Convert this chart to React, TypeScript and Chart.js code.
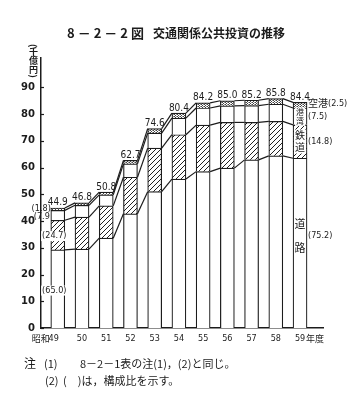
import React, { useEffect, useRef } from 'react';
import { Chart, registerables } from 'chart.js';

Chart.register(...registerables);

// ---- data ----
const years = ['49', '50', '51', '52', '53', '54', '55', '56', '57', '58', '59'];
const road = [29.2, 29.5, 33.6, 42.7, 51.0, 55.7, 58.5, 59.8, 62.9, 64.4, 63.5];
const rail = [11.1, 12.0, 12.1, 13.7, 16.3, 16.6, 17.4, 17.1, 14.0, 12.9, 12.5];
const port = [3.7, 4.4, 4.1, 5.0, 5.6, 6.2, 6.4, 6.2, 6.3, 6.4, 6.3];
const airport = [0.9, 0.9, 1.0, 1.3, 1.7, 1.9, 1.9, 1.9, 2.0, 2.1, 2.1];
const totals = [44.9, 46.8, 50.8, 62.7, 74.6, 80.4, 84.2, 85.0, 85.2, 85.8, 84.4];
const yTicks = [0, 10, 20, 30, 40, 50, 60, 70, 80, 90];
const firstShares = ['(1.8)', '(7.9', '(24.7)', '(65.0)'];
const lastShares = ['(2.5)', '(7.5)', '(14.8)', '(75.2)'];
const xPrefix = '昭和';
const xSuffix = '年度';

const INK = '#1c1c1c';
const NUM_FONT = '"Liberation Sans Narrow", "DejaVu Sans Condensed", "Liberation Sans", sans-serif';
const JP_FONT = '"Noto Sans CJK JP", sans-serif';

function makeHatch(): CanvasPattern {
  const c = document.createElement('canvas');
  c.width = 5;
  c.height = 5;
  const g = c.getContext('2d')!;
  g.fillStyle = '#fff';
  g.fillRect(0, 0, 5, 5);
  g.strokeStyle = '#222';
  g.lineWidth = 1;
  g.beginPath();
  g.moveTo(-1, 6);
  g.lineTo(6, -1);
  g.moveTo(-1, 1);
  g.lineTo(1, -1);
  g.moveTo(4, 6);
  g.lineTo(6, 4);
  g.stroke();
  return g.createPattern(c, 'repeat')!;
}

function makeDots(): CanvasPattern {
  const c = document.createElement('canvas');
  c.width = 3;
  c.height = 2;
  const g = c.getContext('2d')!;
  g.fillStyle = '#fff';
  g.fillRect(0, 0, 3, 2);
  g.fillStyle = '#444';
  g.fillRect(0, 0, 1, 1);
  g.fillRect(1, 1, 1, 1);
  g.fillStyle = '#999';
  g.fillRect(2, 0, 1, 1);
  return g.createPattern(c, 'repeat')!;
}

const overlay = {
  id: 'overlay',
  afterDatasetsDraw(chart: any) {
    const ctx: CanvasRenderingContext2D = chart.ctx;
    const ys = chart.scales.y;
    const area = chart.chartArea;
    const metas = [0, 1, 2, 3].map((d) => chart.getDatasetMeta(d).data);
    ctx.save();
    // connector lines between bars
    ctx.strokeStyle = INK;
    ctx.lineWidth = 1.2;
    for (let d = 0; d < 4; d++) {
      const els = metas[d];
      for (let i = 0; i < els.length - 1; i++) {
        const a = els[i];
        const b = els[i + 1];
        ctx.beginPath();
        ctx.moveTo(a.x + a.width / 2, a.y);
        ctx.lineTo(b.x - b.width / 2, b.y);
        ctx.stroke();
      }
    }
    // inner tick marks on y axis
    ctx.lineWidth = 1.2;
    yTicks.forEach((v) => {
      const y = Math.round(ys.getPixelForValue(v)) + 0.5;
      ctx.beginPath();
      ctx.moveTo(area.left, y);
      ctx.lineTo(area.left + 3, y);
      ctx.stroke();
    });

    // total labels
    ctx.fillStyle = INK;
    ctx.font = `10px ${NUM_FONT}`;
    ctx.textAlign = 'center';
    ctx.textBaseline = 'alphabetic';
    metas[3].forEach((el: any, i: number) => {
      ctx.fillText(totals[i].toFixed(1), el.x, el.y - 2.5);
    });

    // x labels
    const xBase = area.bottom + 11;
    ctx.font = `9px ${NUM_FONT}`;
    ctx.textBaseline = 'middle';
    metas[0].forEach((el: any, i: number) => {
      if (i === 0) {
        ctx.textAlign = 'right';
        ctx.fillText(years[i], el.x + 1, xBase);
        ctx.font = `9px ${JP_FONT}`;
        ctx.fillText(xPrefix, el.x - 8, xBase);
        ctx.font = `9px ${NUM_FONT}`;
      } else if (i === years.length - 1) {
        ctx.textAlign = 'center';
        ctx.fillText(years[i], el.x, xBase);
        ctx.textAlign = 'left';
        ctx.font = `9px ${JP_FONT}`;
        ctx.fillText(xSuffix, el.x + 6, xBase);
        ctx.font = `9px ${NUM_FONT}`;
      } else {
        ctx.textAlign = 'center';
        ctx.fillText(years[i], el.x, xBase);
      }
    });

    // share labels on the first bar
    const f = [metas[3][0], metas[2][0], metas[1][0], metas[0][0]];
    ctx.font = `9px ${NUM_FONT}`;
    ctx.textBaseline = 'middle';
    const left0 = f[0].x - f[0].width / 2;
    ctx.textAlign = 'right';
    ctx.fillText(firstShares[0], left0, f[0].y + 1);
    ctx.fillText(firstShares[1], left0 - 1, (f[1].y + f[1].base) / 2 + 1);
    const drawBoxed = (t: string, cx: number, cy: number) => {
      const w = ctx.measureText(t).width;
      ctx.fillStyle = '#fff';
      ctx.fillRect(cx - w / 2 - 1, cy - 5, w + 2, 10);
      ctx.fillStyle = INK;
      ctx.textAlign = 'center';
      ctx.fillText(t, cx, cy);
    };
    drawBoxed(firstShares[2], f[2].x - 3.5, (f[2].y + f[2].base) / 2 + 1);
    drawBoxed(firstShares[3], f[3].x - 3.5, ys.getPixelForValue(14));

    // share labels and names on the last bar
    const n = years.length - 1;
    const l = [metas[3][n], metas[2][n], metas[1][n], metas[0][n]];
    const right = l[0].x + l[0].width / 2 + 1;
    ctx.textAlign = 'left';
    ctx.fillStyle = INK;
    ctx.font = `10px ${JP_FONT}`;
    ctx.fillText('空港', right, l[0].y + 1);
    const wAir = ctx.measureText('空港').width;
    ctx.font = `9px ${NUM_FONT}`;
    ctx.fillText(lastShares[0], right + wAir, l[0].y + 1);
    ctx.fillText(lastShares[1], right, (l[1].y + l[1].base) / 2);
    ctx.fillText(lastShares[2], right, (l[2].y + l[2].base) / 2);
    ctx.fillText(lastShares[3], right, ys.getPixelForValue(34.5));

    // vertical names inside last bar
    const cx = l[0].x;
    const vText = (chars: string[], ys0: number[], size: number, boxed: boolean) => {
      ctx.font = `${size}px ${JP_FONT}`;
      ctx.textAlign = 'center';
      ctx.textBaseline = 'middle';
      if (boxed) {
        const top = ys0[0] - size / 2 - 1;
        const bot = ys0[ys0.length - 1] + size / 2 + 1;
        ctx.fillStyle = '#fff';
        ctx.fillRect(cx - size / 2 - 1, top, size + 2, bot - top);
      }
      ctx.fillStyle = INK;
      chars.forEach((c, k) => ctx.fillText(c, cx, ys0[k]));
    };
    const pm = (l[1].y + l[1].base) / 2;
    vText(['港', '湾'], [pm - 4, pm + 4.5], 8, true);
    const rm = (l[2].y + l[2].base) / 2;
    vText(['鉄', '道'], [rm - 6, rm + 6], 10, true);
    vText(['道', '路'], [ys.getPixelForValue(39), ys.getPixelForValue(30)], 11, false);

    ctx.restore();
  },
};

export default function App() {
  const ref = useRef<HTMLCanvasElement>(null);

  useEffect(() => {
    const canvas = ref.current!;
    const hatch = makeHatch();
    const dots = makeDots();
    const mk = (label: string, arr: number[], bg: any) => ({
      label,
      data: arr.map((v, i) => ({ x: i, y: v })),
      backgroundColor: bg,
      borderColor: INK,
      borderWidth: 1.2,
      barThickness: 14,
    });
    const chart = new Chart(canvas, {
      type: 'bar',
      data: {
        datasets: [
          mk('道路', road, '#ffffff'),
          mk('鉄道', rail, hatch),
          mk('港湾', port, '#ffffff'),
          mk('空港', airport, dots),
        ],
      },
      options: {
        responsive: false,
        animation: false,
        devicePixelRatio: 1,
        layout: { padding: { left: 0, top: 58, right: 33, bottom: 73 } },
        plugins: { legend: { display: false }, tooltip: { enabled: false } },
        scales: {
          x: {
            type: 'linear',
            stacked: true,
            offset: false,
            min: -0.693,
            max: 10.948,
            grid: { display: false, drawTicks: false },
            ticks: { display: false },
            border: { display: true, color: INK, width: 1.5 },
            afterFit: (s: any) => {
              s.height = 0;
            },
          },
          y: {
            stacked: true,
            min: 0,
            max: 101,
            grid: { display: false, drawTicks: false },
            border: { display: true, color: INK, width: 1.5 },
            afterBuildTicks: (s: any) => {
              s.ticks = yTicks.map((v) => ({ value: v }));
            },
            afterFit: (s: any) => {
              s.width = 41;
            },
            ticks: {
              color: INK,
              padding: 6,
              font: { family: 'DejaVu Sans', size: 10, weight: 'bold' },
            },
          },
        },
      } as any,
      plugins: [overlay],
    });
    return () => chart.destroy();
  }, []);

  const abs = (left: number, top: number, extra: any = {}) => ({
    position: 'absolute' as const,
    left,
    top,
    whiteSpace: 'nowrap' as const,
    fontFamily: JP_FONT,
    color: INK,
    lineHeight: '14px',
    ...extra,
  });

  return (
    <div style={{ position: 'absolute', left: 0, top: 0, width: 356, height: 401, background: '#fff' }}>
      <canvas ref={ref} width={356} height={401} style={{ position: 'absolute', left: 0, top: 0, display: 'block' }} />
      <div style={abs(67, 26, { fontSize: 13, letterSpacing: '3px', fontWeight: 'bold' })}>8－2－2図</div>
      <div style={abs(153, 26, { fontSize: 12, fontWeight: 'bold' })}>交通関係公共投資の推移</div>
      <div
        style={abs(28, 44, {
          fontSize: 9,
          writingMode: 'vertical-rl',
          lineHeight: '10px',
          fontWeight: 'bold',
        })}
      >
        (千億円)
      </div>
      <div style={abs(24, 356, { fontSize: 12 })}>注</div>
      <div style={abs(44, 356, { fontSize: 11 })}>(1)</div>
      <div style={abs(80, 356, { fontSize: 11 })}>8－2－1表の注(1)，(2)と同じ。</div>
      <div style={abs(45, 373, { fontSize: 11 })}>(2)</div>
      <div style={abs(63, 373, { fontSize: 11 })}>(　)は，構成比を示す。</div>
    </div>
  );
}
